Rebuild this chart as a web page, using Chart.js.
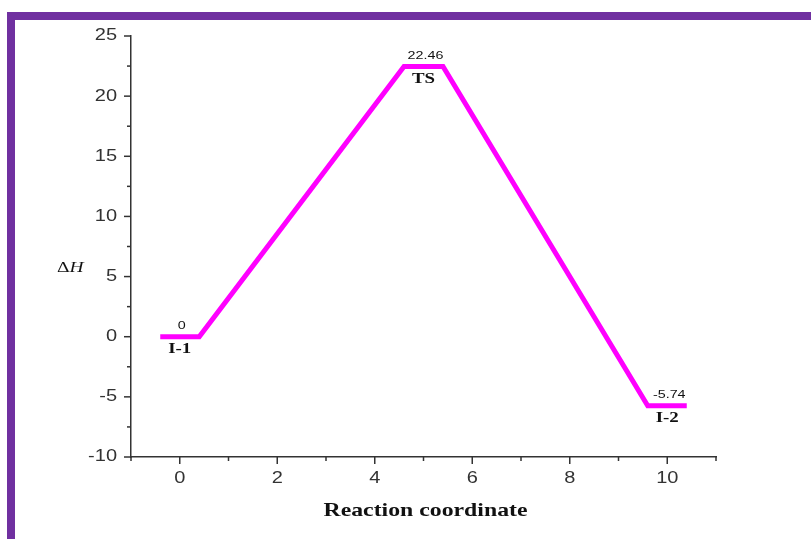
<!DOCTYPE html>
<html>
<head>
<meta charset="utf-8">
<script src="https://cdn.jsdelivr.net/npm/chart.js@4"></script>
<style>
  html, body { margin: 0; padding: 0; background: #fff; }
  #wrap { position: relative; width: 811px; height: 539px; overflow: hidden; }
  #chart { position: absolute; left: 0; top: 0; }
  .bar { position: absolute; background: #7030a0; }
</style>
</head>
<body>
<div id="wrap">
  <canvas id="chart" width="811" height="539"></canvas>
  <div class="bar" style="left:7px; top:12px; width:804px; height:8px;"></div>
  <div class="bar" style="left:7px; top:12px; width:8px; height:527px;"></div>
</div>
<script>
// reaction path (x = reaction coordinate, y = ΔH)
const pathX = [-0.4, 0.4, 4.6, 5.4, 9.6, 10.4];
const pathY = [0, 0, 22.46, 22.46, -5.74, -5.74];

// state labels
const stateX = [0, 5, 10];
const stateY = [0, 22.46, -5.74];
const stateValue = ['0', '22.46', '-5.74'];
const stateName = ['I-1', 'TS', 'I-2'];

const xMin = -1, xMax = 11;
const yMin = -10, yMax = 25;
const xTickValues = [0, 2, 4, 6, 8, 10];
const yTickValues = [-10, -5, 0, 5, 10, 15, 20, 25];

const axisColor = '#333';
const SANS = '"Liberation Sans", Arial, sans-serif';
const SERIF = '"Liberation Serif", "Times New Roman", serif';

// the original text looks horizontally stretched, so draw it that way
function stretchText(ctx, text, x, y, sx, align) {
    const w = ctx.measureText(text).width * sx;
    let left = x;
    if (align === 'center') left = x - w / 2;
    if (align === 'right') left = x - w;
    ctx.save();
    ctx.translate(left, y);
    ctx.scale(sx, 1);
    ctx.textAlign = 'left';
    ctx.fillText(text, 0, 0);
    ctx.restore();
    return w;
}

// ticks, labels and axis titles drawn on top of the scales
const decorPlugin = {
    id: 'decor',
    afterDraw(chart) {
        const ctx = chart.ctx;
        const xs = chart.scales.x;
        const ys = chart.scales.y;
        const area = chart.chartArea;
        ctx.save();
        ctx.strokeStyle = axisColor;
        ctx.lineWidth = 1.5;

        // x ticks: major on even, minor on odd
        for (let v = xMin; v <= xMax; v++) {
            const px = xs.getPixelForValue(v);
            const len = (v % 2 === 0) ? 7 : 4;
            ctx.beginPath();
            ctx.moveTo(px, area.bottom);
            ctx.lineTo(px, area.bottom + len);
            ctx.stroke();
        }
        // y ticks: major every 5, minor every 2.5
        for (let v = yMin; v <= yMax; v += 2.5) {
            const py = ys.getPixelForValue(v);
            const len = (v % 5 === 0) ? 7 : 4;
            ctx.beginPath();
            ctx.moveTo(area.left, py);
            ctx.lineTo(area.left - len, py);
            ctx.stroke();
        }

        ctx.textBaseline = 'middle';

        // tick labels
        ctx.fillStyle = '#333';
        ctx.font = '16px ' + SANS;
        xTickValues.forEach(v => {
            stretchText(ctx, String(v), xs.getPixelForValue(v), area.bottom + 22, 1.25, 'center');
        });
        yTickValues.forEach(v => {
            stretchText(ctx, String(v), area.left - 14, ys.getPixelForValue(v), 1.25, 'right');
        });

        // state labels
        ctx.fillStyle = '#111';
        for (let i = 0; i < stateX.length; i++) {
            const px = xs.getPixelForValue(stateX[i]);
            const py = ys.getPixelForValue(stateY[i]);
            ctx.font = '11px ' + SANS;
            stretchText(ctx, stateValue[i], px + 2, py - 11, 1.3, 'center');
            ctx.font = 'bold 14px ' + SERIF;
            stretchText(ctx, stateName[i], px, py + 13, 1.35, 'center');
        }

        // axis titles
        ctx.font = 'bold 19px ' + SERIF;
        const tw = ctx.measureText('Reaction coordinate').width;
        stretchText(ctx, 'Reaction coordinate', (area.left + area.right) / 2 + 2, 511, 204 / tw, 'center');

        ctx.font = '15px ' + SERIF;
        const dx = 57;
        const dw = stretchText(ctx, '\u0394', dx, 268, 1.3, 'left');
        ctx.font = 'italic 15px ' + SERIF;
        stretchText(ctx, 'H', dx + dw, 268, 1.3, 'left');
        ctx.restore();
    }
};

const ctx = document.getElementById('chart').getContext('2d');
const chart = new Chart(ctx, {
    type: 'line',
    data: {
        datasets: [{
            data: pathX.map((x, i) => ({ x: x, y: pathY[i] })),
            borderColor: '#ff00ff',
            borderWidth: 5,
            pointRadius: 0,
            tension: 0,
            fill: false
        }]
    },
    options: {
        responsive: false,
        animation: false,
        layout: { padding: { top: 36, right: 95, left: 0, bottom: 0 } },
        plugins: {
            legend: { display: false },
            tooltip: { enabled: false }
        },
        scales: {
            x: {
                type: 'linear',
                min: xMin,
                max: xMax,
                afterFit: s => { s.height = 82; },
                afterBuildTicks: s => { s.ticks = xTickValues.map(v => ({ value: v })); },
                grid: { display: false, drawTicks: false },
                border: { display: true, color: axisColor, width: 1.5 },
                ticks: { display: false }
            },
            y: {
                min: yMin,
                max: yMax,
                afterFit: s => { s.width = 131; },
                afterBuildTicks: s => { s.ticks = yTickValues.map(v => ({ value: v })); },
                grid: { display: false, drawTicks: false },
                border: { display: true, color: axisColor, width: 1.5 },
                ticks: { display: false }
            }
        }
    },
    plugins: [decorPlugin]
});
</script>
</body>
</html>
